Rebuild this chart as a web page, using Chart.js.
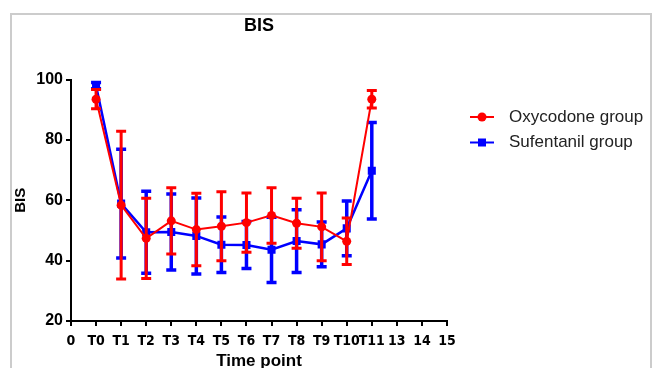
<!DOCTYPE html>
<html>
<head>
<meta charset="utf-8">
<script src="https://cdn.jsdelivr.net/npm/chart.js@4.4.1/dist/chart.umd.min.js"></script>
<style>
  body { margin: 0; background: #fff; }
  #wrap { width: 664px; height: 368px; }
</style>
</head>
<body>
<div id="wrap"><canvas id="graficoBIS"></canvas></div>
<script>
// Datos
const etiquetasTiempo = ["0", "T0", "T1", "T2", "T3", "T4", "T5", "T6", "T7", "T8", "T9", "T10", "T11", "13", "14", "15"];
const posiciones = [1, 2, 3, 4, 5, 6, 7, 8, 9, 10, 11, 12];

const oxyMedia = [93.5, 58.4, 47.4, 53.2, 50.3, 51.4, 52.6, 55.0, 52.4, 51.2, 46.4, 93.5];
const oxySD = [3.2, 24.5, 13.3, 11.0, 12.0, 11.4, 9.8, 9.2, 8.3, 11.2, 7.7, 2.9];

const sufMedia = [98.0, 58.9, 49.4, 49.5, 48.2, 45.3, 45.2, 43.6, 46.5, 45.4, 50.7, 69.8];
const sufSD = [1.0, 18.0, 13.6, 12.6, 12.6, 9.2, 7.8, 10.8, 10.4, 7.4, 9.1, 16.0];

const fuente = "'Liberation Sans', Arial, sans-serif";
const fuenteEstrecha = "'Liberation Sans Narrow', 'Arial Narrow', 'DejaVu Sans Condensed', sans-serif";

// marco gris alrededor
const marco = {
  id: "marco",
  beforeDraw(chart) {
    const ctx = chart.ctx;
    ctx.save();
    ctx.fillStyle = "#fff";
    ctx.fillRect(0, 0, chart.width, chart.height);
    ctx.strokeStyle = "#cccccc";
    ctx.lineWidth = 2;
    ctx.strokeRect(11, 14, 640, 380);
    ctx.restore();
  },
};

// barras de error (media +/- SD)
const barrasError = {
  id: "barrasError",
  beforeDatasetDraw(chart, args) {
    const ds = chart.data.datasets[args.index];
    const escalaY = chart.scales.y;
    const ctx = chart.ctx;
    ctx.save();
    ctx.strokeStyle = ds.borderColor;
    ctx.lineWidth = ds.anchoError;
    args.meta.data.forEach((p, i) => {
      const m = ds.data[i].y;
      const e = ds.errores[i];
      const arriba = escalaY.getPixelForValue(m + e);
      const abajo = escalaY.getPixelForValue(m - e);
      ctx.beginPath();
      ctx.moveTo(p.x, arriba);
      ctx.lineTo(p.x, abajo);
      ctx.moveTo(p.x - 5, arriba);
      ctx.lineTo(p.x + 5, arriba);
      ctx.moveTo(p.x - 5, abajo);
      ctx.lineTo(p.x + 5, abajo);
      ctx.stroke();
    });
    ctx.restore();
  },
};

// leyenda a la derecha
const leyenda = {
  id: "leyenda",
  afterDraw(chart) {
    const ctx = chart.ctx;
    ctx.save();
    chart.data.datasets.forEach((ds, i) => {
      const y = 117 + i * 25.5;
      ctx.strokeStyle = ds.borderColor;
      ctx.lineWidth = 2;
      ctx.beginPath();
      ctx.moveTo(470, y);
      ctx.lineTo(494, y);
      ctx.stroke();
      ctx.fillStyle = ds.borderColor;
      ctx.beginPath();
      if (ds.pointStyle === "rect") {
        ctx.rect(478, y - 4, 8, 8);
      } else {
        ctx.arc(482, y, 4.5, 0, Math.PI * 2);
      }
      ctx.fill();
      ctx.fillStyle = "#222";
      ctx.font = "17px " + fuente;
      ctx.textBaseline = "middle";
      ctx.fillText(ds.label, 509, y);
    });
    ctx.restore();
  },
};

const aPuntos = (medias) => posiciones.map((x, i) => ({ x: x, y: medias[i] }));

const ctx = document.getElementById("graficoBIS");
const grafico = new Chart(ctx, {
  type: "line",
  data: {
    datasets: [
      {
        label: "Oxycodone group",
        data: aPuntos(oxyMedia),
        errores: oxySD,
        anchoError: 3,
        borderColor: "#ff0000",
        backgroundColor: "#ff0000",
        borderWidth: 2,
        pointStyle: "circle",
        pointRadius: 4.5,
        pointBorderWidth: 0,
        tension: 0,
      },
      {
        label: "Sufentanil group",
        data: aPuntos(sufMedia),
        errores: sufSD,
        anchoError: 3.5,
        borderColor: "#0000ff",
        backgroundColor: "#0000ff",
        borderWidth: 2.5,
        pointStyle: "rect",
        pointRadius: 5.7,
        pointBorderWidth: 0,
        tension: 0,
      },
    ],
  },
  options: {
    responsive: true,
    maintainAspectRatio: false,
    animation: false,
    layout: { padding: { left: 0, top: 0, right: 217, bottom: 0 } },
    plugins: {
      legend: { display: false },
      tooltip: { enabled: false },
      title: {
        display: true,
        text: "BIS",
        fullSize: false,
        color: "#000",
        font: { family: fuente, size: 18, weight: "bold" },
        padding: { top: 15, bottom: 43 },
      },
    },
    scales: {
      x: {
        type: "linear",
        min: 0,
        max: 15,
        afterFit: (s) => { s.height = 47; },
        ticks: {
          stepSize: 1,
          autoSkip: false,
          maxRotation: 0,
          minRotation: 0,
          padding: 7,
          color: "#000",
          font: { family: fuenteEstrecha, size: 14, weight: "bold" },
          callback: (v) => etiquetasTiempo[Math.round(v)],
        },
        grid: { drawOnChartArea: false, drawTicks: true, tickLength: 5, color: "#000", lineWidth: 2 },
        border: { display: true, color: "#000", width: 2 },
        title: {
          display: true,
          text: "Time point",
          color: "#000",
          font: { family: fuente, size: 17, weight: "bold", lineHeight: 0.8 },
          padding: 0,
        },
      },
      y: {
        min: 20,
        max: 100,
        afterFit: (s) => { s.width = 71; },
        ticks: {
          stepSize: 20,
          padding: 3,
          color: "#000",
          font: { family: fuente, size: 16, weight: "bold" },
        },
        grid: { drawOnChartArea: false, drawTicks: true, tickLength: 5, color: "#000", lineWidth: 2 },
        border: { display: true, color: "#000", width: 2 },
        title: {
          display: true,
          text: "BIS",
          color: "#000",
          font: { family: fuente, size: 15, weight: "bold" },
          padding: { top: 12, bottom: 0 },
        },
      },
    },
  },
  plugins: [marco, barrasError, leyenda],
});
</script>
</body>
</html>
